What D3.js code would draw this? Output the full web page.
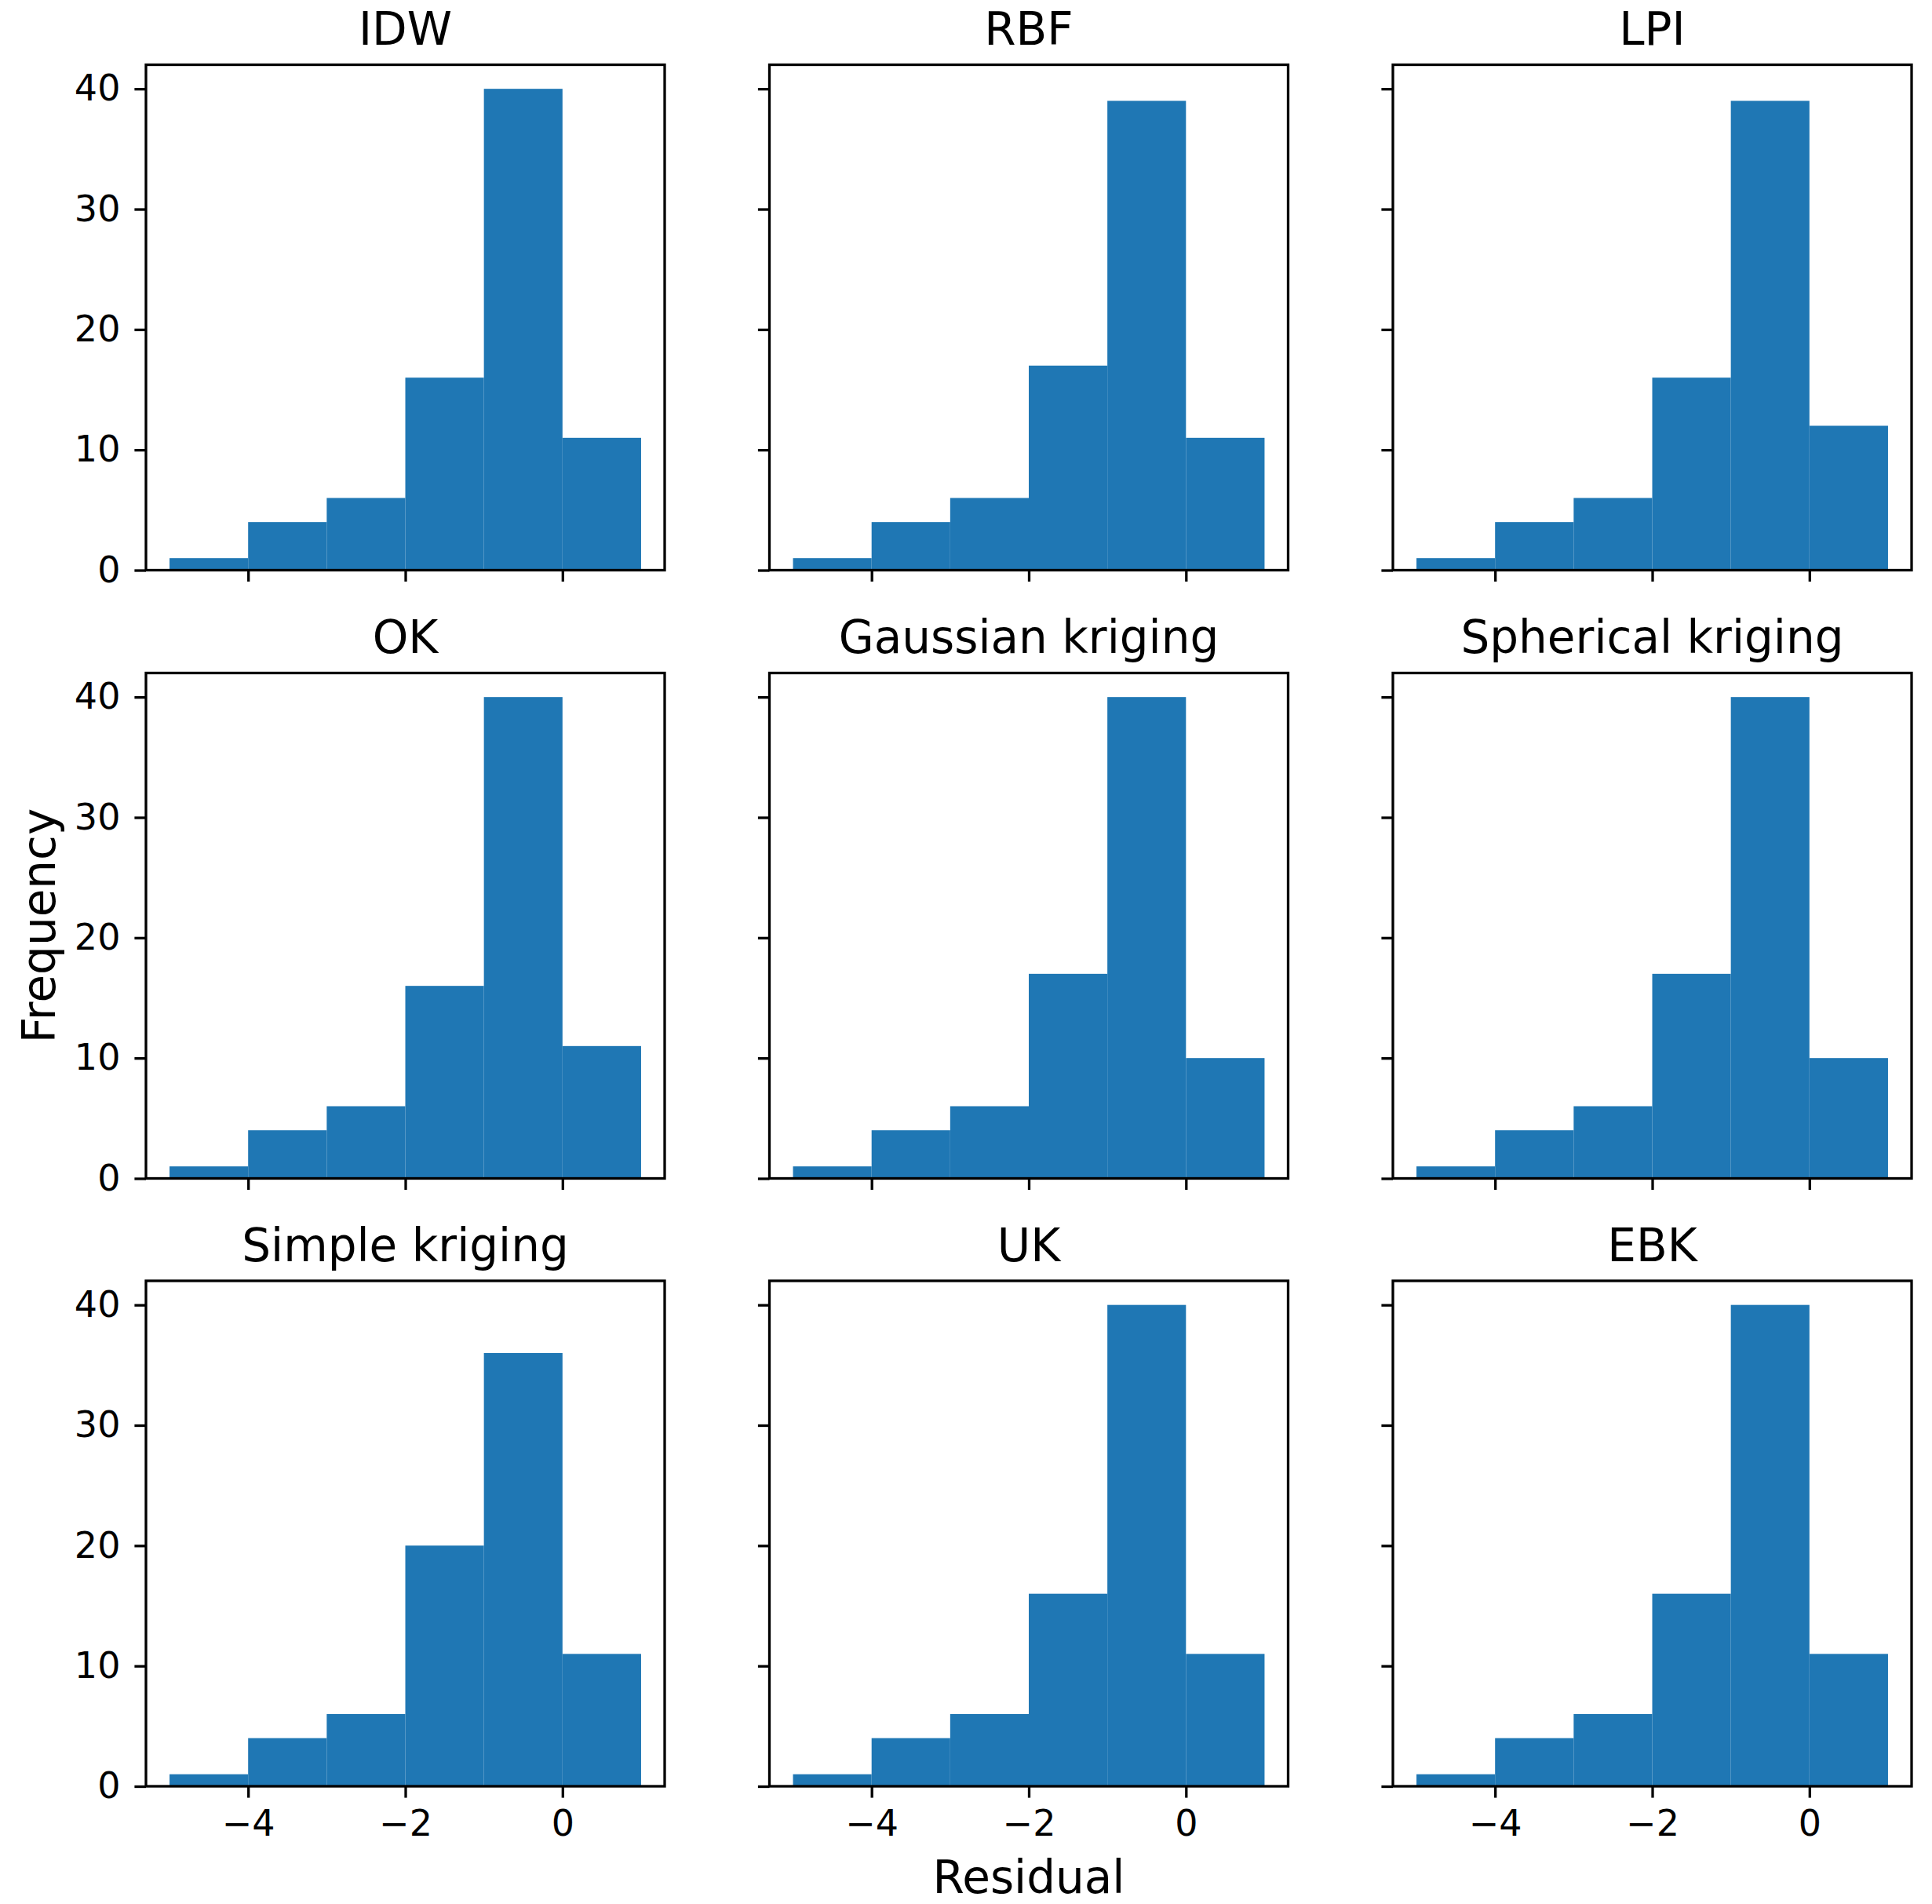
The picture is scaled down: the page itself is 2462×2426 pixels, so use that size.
<!DOCTYPE html>
<html>
<head>
<meta charset="utf-8">
<script src="https://cdn.jsdelivr.net/npm/d3@7"></script>
<style>
  body { margin: 0; background: #fff; }
  text { font-family: 'DejaVu Sans', sans-serif; fill: #000; }
</style>
</head>
<body>
<div id="chart"></div>
<script>
// residual histograms, one panel per interpolation method
const methods = ['IDW', 'RBF', 'LPI', 'OK', 'Gaussian kriging', 'Spherical kriging', 'Simple kriging', 'UK', 'EBK']
const binEdges = [-5, -4, -3, -2, -1, 0, 1]
const idwCounts = [1, 4, 6, 16, 40, 11]
const rbfCounts = [1, 4, 6, 17, 39, 11]
const lpiCounts = [1, 4, 6, 16, 39, 12]
const okCounts = [1, 4, 6, 16, 40, 11]
const gaussianCounts = [1, 4, 6, 17, 40, 10]
const sphericalCounts = [1, 4, 6, 17, 40, 10]
const simpleCounts = [1, 4, 6, 20, 36, 11]
const ukCounts = [1, 4, 6, 16, 40, 11]
const ebkCounts = [1, 4, 6, 16, 40, 11]
const xTicks = [-4, -2, 0]
const yTicks = [0, 10, 20, 30, 40]

const allCounts = [idwCounts, rbfCounts, lpiCounts, okCounts, gaussianCounts,
  sphericalCounts, simpleCounts, ukCounts, ebkCounts]

const W = 2462
const H = 2426
const colLeft = [186, 980.5, 1775]
const rowTop = [82.5, 857.5, 1632]
const pw = 661
const ph = 644
const lw = 3.3
const tickLen = 14.6

const svg = d3.select('#chart').append('svg')
  .attr('width', W)
  .attr('height', H)

const x = d3.scaleLinear().domain([-5.3, 1.3]).range([0, pw])
const y = d3.scaleLinear().domain([0, 42]).range([ph, 0])
const fmt = v => String(v).replace('-', '\u2212')

methods.forEach((name, i) => {
  const row = Math.floor(i / 3)
  const col = i % 3
  const g = svg.append('g')
    .attr('transform', `translate(${colLeft[col]},${rowTop[row]})`)

  const bins = allCounts[i].map((c, k) => ({ x0: binEdges[k], x1: binEdges[k + 1], n: c }))

  g.selectAll('rect.bar')
    .data(bins)
    .enter()
    .append('rect')
    .attr('class', 'bar')
    .attr('x', d => x(d.x0))
    .attr('width', d => x(d.x1) - x(d.x0))
    .attr('y', d => y(d.n))
    .attr('height', d => y(0) - y(d.n))
    .attr('fill', '#1f77b4')

  const yAxis = d3.axisLeft(y)
    .tickValues(yTicks)
    .tickSize(tickLen)
    .tickPadding(18)
    .tickFormat(col === 0 ? fmt : () => '')
  const yg = g.append('g').call(yAxis)

  const xAxis = d3.axisBottom(x)
    .tickValues(xTicks)
    .tickSize(tickLen)
    .tickPadding(16)
    .tickFormat(row === 2 ? fmt : () => '')
  const xg = g.append('g').attr('transform', `translate(0,${ph})`).call(xAxis)

  ;[yg, xg].forEach(ax => {
    ax.select('.domain').remove()
    ax.selectAll('.tick line').attr('stroke', '#000').attr('stroke-width', lw)
    ax.selectAll('.tick text')
      .attr('fill', '#000')
      .style('font-size', '46px')
      .style('font-family', "'DejaVu Sans', sans-serif")
  })

  // spines
  g.append('rect')
    .attr('x', 0)
    .attr('y', 0)
    .attr('width', pw)
    .attr('height', ph)
    .attr('fill', 'none')
    .attr('stroke', '#000')
    .attr('stroke-width', lw)

  g.append('text')
    .text(name)
    .attr('x', pw / 2)
    .attr('y', -25.5)
    .attr('text-anchor', 'middle')
    .style('font-size', '58px')
})

// shared axis labels
svg.append('text')
  .text('Residual')
  .attr('x', colLeft[1] + pw / 2)
  .attr('y', 2412)
  .attr('text-anchor', 'middle')
  .style('font-size', '58px')

svg.append('text')
  .text('Frequency')
  .attr('transform', `translate(70,${rowTop[1] + ph / 2}) rotate(-90)`)
  .attr('text-anchor', 'middle')
  .style('font-size', '58px')
</script>
</body>
</html>
